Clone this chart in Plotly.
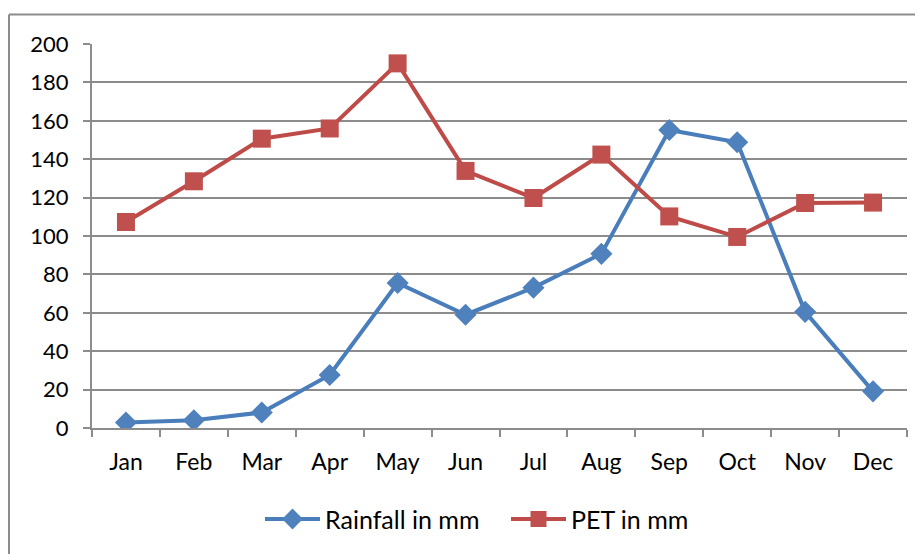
import plotly.graph_objects as go

# -------- Data --------
months = ["Jan", "Feb", "Mar", "Apr", "May", "Jun", "Jul", "Aug", "Sep", "Oct", "Nov", "Dec"]
rainfall = [2.9, 4.0, 8.1, 27.6, 75.5, 59.0, 73.1, 90.7, 155.2, 148.8, 60.5, 19.1]
pet = [107.3, 128.5, 150.7, 156.0, 189.9, 133.9, 119.8, 142.4, 110.2, 99.5, 117.2, 117.4]
y_ticks = list(range(0, 201, 20))

# -------- Styles --------
BLUE_LINE, BLUE_MARK = "#4A7EBB", "#4F81BD"
RED_LINE, RED_MARK = "#BE4B48", "#C0504D"
GRID = "#8C8C8C"
FONT = "Lato"

fig = go.Figure()
fig.add_trace(go.Scatter(
    x=months, y=rainfall, name="Rainfall in mm", mode="lines+markers",
    line=dict(color=BLUE_LINE, width=4),
    marker=dict(symbol="diamond", size=17, color=BLUE_MARK),
))
fig.add_trace(go.Scatter(
    x=months, y=pet, name="PET in mm", mode="lines+markers",
    line=dict(color=RED_LINE, width=4),
    marker=dict(symbol="square", size=18, color=RED_MARK),
))

# target plot area in the screenshot: x 92..907 px, y 43.5..428.5 px
# (the page body adds an 8px offset)
OFF = 8
L, R, T, B = 92, 907, 43.5, 428.5
W, H = R - L, B - T
def px_x(p): return (p - L) / W
def px_y(p): return (B - p) / H

fig.update_layout(
    width=923, height=554,
    margin=dict(l=L - OFF, r=923 - R + OFF, t=T - OFF, b=554 - B + OFF),
    paper_bgcolor="white", plot_bgcolor="white",
    font=dict(family=FONT, size=22, color="#000000"),
    showlegend=True,
    legend=dict(
        orientation="h", x=px_x(506), xanchor="center", y=px_y(520), yanchor="middle",
        font=dict(size=25), tracegroupgap=0, itemwidth=55,
        entrywidth=176, entrywidthmode="pixels",
    ),
    shapes=[
        # chart outer border (top + left only visible)
        dict(type="line", xref="paper", yref="paper", x0=px_x(9), x1=px_x(935),
             y0=px_y(14), y1=px_y(14), line=dict(color=GRID, width=2)),
        dict(type="line", xref="paper", yref="paper", x0=px_x(9), x1=px_x(9),
             y0=px_y(14), y1=px_y(566), line=dict(color=GRID, width=2)),
    ],
)
fig.update_xaxes(
    type="category", range=[-0.5, 11.5],
    showline=True, linecolor=GRID, linewidth=2,
    ticks="outside", tickson="boundaries", ticklen=7, tickcolor=GRID, tickwidth=2,
    showgrid=False, ticklabelstandoff=12, tickfont=dict(size=23),
)
fig.update_yaxes(
    range=[0, 200], tickvals=y_ticks,
    showline=True, linecolor=GRID, linewidth=2,
    ticks="outside", ticklen=7, tickcolor=GRID, tickwidth=2,
    showgrid=True, gridcolor=GRID, gridwidth=1.5, zeroline=False,
    ticklabelstandoff=10, tickfont=dict(size=22),
)

fig.write_html("out.html")
